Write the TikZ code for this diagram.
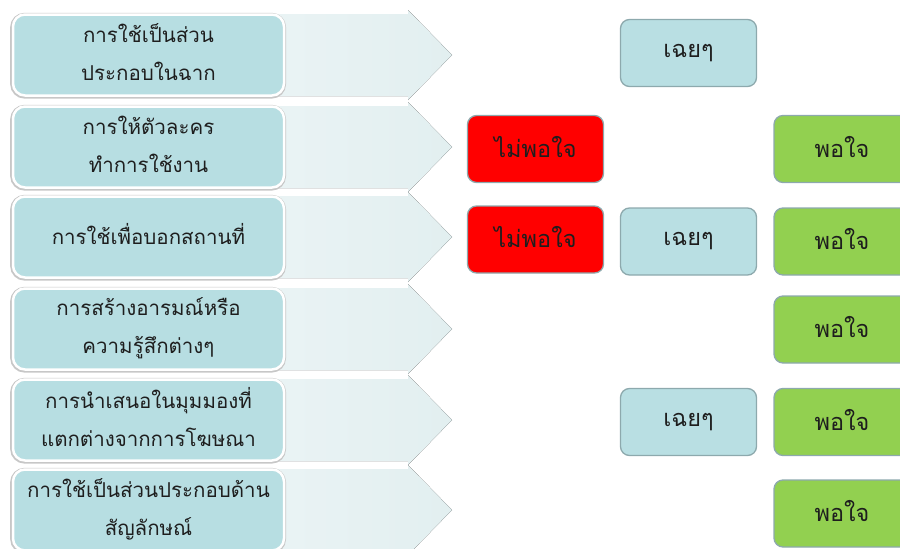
\documentclass[tikz,border=0pt]{standalone}
\usepackage{fontspec}
\newfontfamily\thai[Script=Thai]{Loma}
\definecolor{lteal}{HTML}{B7DEE2}
\definecolor{rteal}{HTML}{B9DFE3}
\definecolor{bord}{HTML}{8DA9AD}
\definecolor{okgreen}{HTML}{92D050}
\definecolor{badred}{HTML}{FF0000}
\definecolor{arrowc}{HTML}{E2EFF0}
\definecolor{arrowl}{HTML}{EDF5F6}
\definecolor{txt}{HTML}{1E1E1E}
\newcommand\liftL{\rule[-6pt]{0pt}{1pt}}
\newcommand\liftR{\rule[-5pt]{0pt}{1pt}}
\tikzset{
  lbox/.style={rectangle, rounded corners=12pt, fill=lteal, draw=white, line width=2.5pt,
    minimum width=271pt, minimum height=81pt, align=center, text=txt,
    font=\thai\fontsize{20.5}{38}\selectfont,
    preaction={draw=black!22, line width=4.8pt, transform canvas={xshift=-0.4pt,yshift=-0.7pt}}},
  rbox/.style={rectangle, rounded corners=9pt, draw=bord, line width=1.3pt,
    minimum width=136pt, minimum height=67pt, text=txt,
    font=\thai\fontsize{23.5}{26}\selectfont},
}
\begin{document}
\begin{tikzpicture}[x=1pt,y=-1pt]
\useasboundingbox (0,0) rectangle (900,549);
% pale arrows
\foreach \cy in {55,147,237,329,420,510}{
  \fill[left color=arrowl, right color=arrowc] (200,\cy-41) -- (408,\cy-41) -- (408,\cy-45) -- (452,\cy) -- (408,\cy+45) -- (408,\cy+41) -- (200,\cy+41) -- cycle;
}
% left boxes
\node[lbox] (l1) at (148.5,55) {การใช้เป็นส่วน\\ประกอบในฉาก\liftL};
\node[lbox] (l2) at (148.5,147) {การให้ตัวละคร\\ทำการใช้งาน\liftL};
\node[lbox] (l3) at (148.5,237) {การใช้เพื่อบอกสถานที่\liftL};
\node[lbox] (l4) at (148.5,329) {การสร้างอารมณ์หรือ\\ความรู้สึกต่างๆ\liftL};
\node[lbox] (l5) at (148.5,420) {การนำเสนอในมุมมองที่\\แตกต่างจากการโฆษณา\liftL};
\node[lbox] (l6) at (148.5,510) {การใช้เป็นส่วนประกอบด้าน\\สัญลักษณ์\liftL};
% red
\node[rbox, fill=badred] (r2) at (535.5,149) {ไม่พอใจ\liftR};
\node[rbox, fill=badred] (r3) at (535.5,239.5) {ไม่พอใจ\liftR};
% neutral
\node[rbox, fill=rteal] (n1) at (688.5,53) {เฉยๆ\liftR};
\node[rbox, fill=rteal] (n3) at (688.5,241.5) {เฉยๆ\liftR};
\node[rbox, fill=rteal] (n5) at (688.5,422) {เฉยๆ\liftR};
% green
\node[rbox, fill=okgreen] (g2) at (842,149) {พอใจ\liftR};
\node[rbox, fill=okgreen] (g3) at (842,241.5) {พอใจ\liftR};
\node[rbox, fill=okgreen] (g4) at (842,329.5) {พอใจ\liftR};
\node[rbox, fill=okgreen] (g5) at (842,422) {พอใจ\liftR};
\node[rbox, fill=okgreen] (g6) at (842,513.5) {พอใจ\liftR};
\end{tikzpicture}
\end{document}
